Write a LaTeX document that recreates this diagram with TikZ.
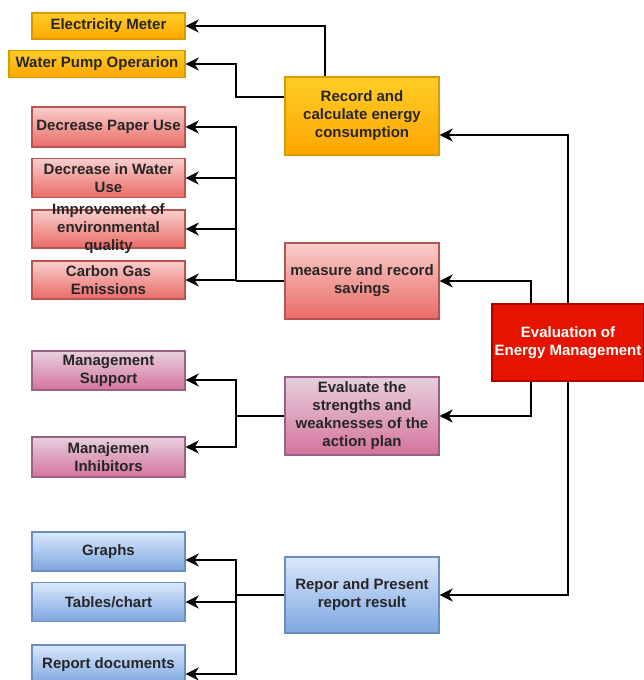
\documentclass[tikz,border=0pt]{standalone}
\usepackage{fontspec}
\setmainfont{Liberation Sans}
\usetikzlibrary{arrows.meta,shadings}
\definecolor{txt}{HTML}{262626}
\definecolor{orS}{HTML}{D79B00}\definecolor{orT}{HTML}{FFCD28}\definecolor{orB}{HTML}{FFA500}
\definecolor{rdS}{HTML}{B85450}\definecolor{rdT}{HTML}{F8CECC}\definecolor{rdB}{HTML}{EA6B66}
\definecolor{puS}{HTML}{996185}\definecolor{puT}{HTML}{E6D0DE}\definecolor{puB}{HTML}{D5739D}
\definecolor{blS}{HTML}{6C8EBF}\definecolor{blT}{HTML}{DAE8FC}\definecolor{blB}{HTML}{7EA6E0}
\definecolor{evS}{HTML}{B20000}\definecolor{evF}{HTML}{E51400}
\tikzset{
  box/.style={rectangle, line width=1.4pt, inner sep=1pt, align=center,
    font=\fontsize{15}{18}\selectfont\bfseries, text=txt},
  orangebox/.style={box, draw=orS, top color=orT, bottom color=orB},
  redbox/.style={box, draw=rdS, top color=rdT, bottom color=rdB},
  purplebox/.style={box, draw=puS, top color=puT, bottom color=puB},
  bluebox/.style={box, draw=blS, top color=blT, bottom color=blB},
  evalbox/.style={box, draw=evS, fill=evF, text=white},
  conn/.style={line width=2pt, black},
  arr/.style={conn, -{Stealth[length=13pt,width=13pt,inset=4pt]}},
}
\begin{document}
\begin{tikzpicture}[x=1pt,y=-1pt]
\useasboundingbox (0,0) rectangle (644,680);
% orange
\node[orangebox, minimum width=153pt, minimum height=26pt] (em) at (108.5,26) {Electricity Meter};
\node[orangebox, minimum width=176pt, minimum height=27pt] (wp) at (97,64) {Water Pump Operarion};
\node[orangebox, minimum width=154pt, minimum height=78pt] (rec) at (362,116) {Record and\\calculate energy\\consumption};
% red
\node[redbox, minimum width=153pt, minimum height=40pt] (dp) at (108.5,127) {Decrease Paper Use};
\node[redbox, minimum width=153pt, minimum height=39pt] (dw) at (108.5,178) {Decrease in Water\\Use};
\node[redbox, minimum width=153pt, minimum height=38pt] (ie) at (108.5,229) {};
\node[box] (iet) at (ie.center) {Improvement of\\environmental\\quality};
\node[redbox, minimum width=153pt, minimum height=38pt] (cg) at (108.5,280) {Carbon Gas\\Emissions};
\node[redbox, minimum width=154pt, minimum height=76pt] (ms) at (362,281) {measure and record\\savings};
% evaluation
\node[evalbox, minimum width=152pt, minimum height=77pt] (ev) at (568,342.5) {Evaluation of\\Energy Management};
% purple
\node[purplebox, minimum width=153pt, minimum height=39pt] (su) at (108.5,370.5) {Management\\Support};
\node[purplebox, minimum width=153pt, minimum height=40pt] (mi) at (108.5,457) {Manajemen\\Inhibitors};
\node[purplebox, minimum width=154pt, minimum height=78pt] (es) at (362,416) {Evaluate the\\strengths and\\weaknesses of the\\action plan};
% blue
\node[bluebox, minimum width=153pt, minimum height=39pt] (gr) at (108.5,551.5) {Graphs};
\node[bluebox, minimum width=153pt, minimum height=39pt] (tb) at (108.5,602) {Tables/chart};
\node[bluebox, minimum width=153pt, minimum height=39pt] (rd) at (108.5,664.5) {Report documents};
\node[bluebox, minimum width=154pt, minimum height=76pt] (rp) at (362,595) {Repor and Present\\report result};
% connectors: record
\draw[arr] ([xshift=-37pt]rec.north) |- (em.east);
\draw[arr] ([yshift=19pt]rec.west) -- ++(-48,0) |- (wp.east);
% measure bus
\coordinate (b1) at (236,281);
\draw[conn] (ms.west) -- (b1);
\draw[arr] (b1) |- (dp.east);
\draw[arr] (b1) |- (dw.east);
\draw[arr] (b1) |- (ie.east);
\draw[arr] (b1) |- (cg.east);
% evaluation
\draw[arr] (ev.north) |- ([yshift=-19pt]rec.east);
\draw[arr] ([xshift=-37pt]ev.north) |- (ms.east);
\draw[arr] ([xshift=-37pt]ev.south) |- (es.east);
\draw[arr] (ev.south) |- (rp.east);
% evaluate bus
\coordinate (b2) at (236,416);
\draw[conn] (es.west) -- (b2);
\draw[arr] (b2) |- ([yshift=-9.5pt]su.east);
\draw[arr] (b2) |- ([yshift=10pt]mi.east);
% report bus
\coordinate (b3) at (236,595);
\draw[conn] (rp.west) -- (b3);
\draw[arr] (b3) |- ([yshift=-8.5pt]gr.east);
\draw[arr] (b3) |- (tb.east);
\draw[arr] (b3) |- ([yshift=-9.5pt]rd.east);
\end{tikzpicture}
\end{document}
